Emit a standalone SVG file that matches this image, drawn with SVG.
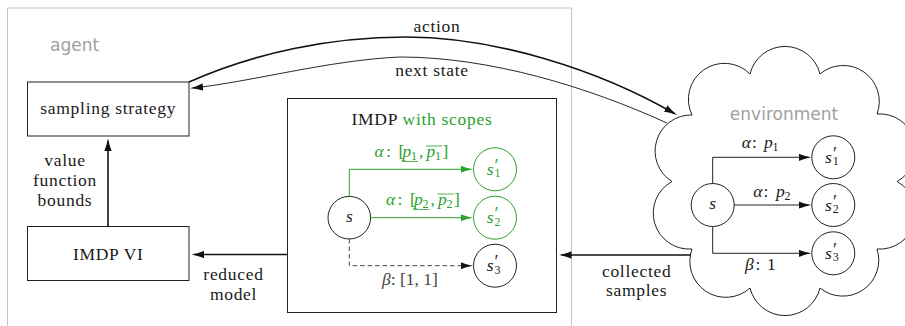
<svg xmlns="http://www.w3.org/2000/svg" width="905" height="326" viewBox="0 0 905 326">
<defs>
<style>
.t{font-family:'Liberation Serif','DejaVu Serif',serif;font-size:17.5px;fill:#1a1a1a}
.w{letter-spacing:0.7px}
.m{text-anchor:middle}
.i{font-style:italic}
.sm{font-size:12px}
.pr{font-size:18px}
.g{fill:#2ca02c}
.dk{fill:#444}
.sans{font-family:'DejaVu Sans','Open Sans',sans-serif;font-size:17px;fill:#a0a0a0}
.box{fill:#fff;stroke:#222;stroke-width:1}
.node{fill:#fff;stroke:#222;stroke-width:1}
.gnode{fill:#fff;stroke:#2ca02c;stroke-width:1}
.thick{fill:none;stroke:#111;stroke-width:1.6}
.thin{fill:none;stroke:#111;stroke-width:0.9}
.edge{fill:none;stroke:#222;stroke-width:1}
.gedge{fill:none;stroke:#2ca02c;stroke-width:1}
.dash{fill:none;stroke:#444;stroke-width:1;stroke-dasharray:4.5 3}
.gl{stroke:#2ca02c;stroke-width:0.8}
</style>
<marker id="ah" viewBox="0 0 13 8" refX="10" refY="4" markerWidth="13" markerHeight="8" orient="auto" markerUnits="userSpaceOnUse">
<path d="M13,4 C9,4.6 4,6 0,7.7 L0,0.3 C4,2 9,3.4 13,4 Z" fill="#111"/>
</marker>
<marker id="ahg" viewBox="0 0 13 8" refX="10" refY="4" markerWidth="13" markerHeight="8" orient="auto" markerUnits="userSpaceOnUse">
<path d="M13,4 C9,4.6 4,6 0,7.7 L0,0.3 C4,2 9,3.4 13,4 Z" fill="#2ca02c"/>
</marker>
</defs>
<rect width="905" height="326" fill="#fff"/>

<g id="agent">
<rect x="7.5" y="8" width="564" height="340" fill="none" stroke="#c4c4c4" stroke-width="1"/>
<text class="sans" x="50" y="50.5">agent</text>
</g>

<g id="sampling-strategy">
<rect class="box" x="27.5" y="82" width="161.5" height="54"/>
<text class="t w m" x="108.25" y="113.5">sampling strategy</text>
</g>

<g id="imdp-vi">
<rect class="box" x="27.5" y="226.5" width="161.5" height="54"/>
<text class="t w m" x="108.25" y="259.5">IMDP VI</text>
</g>

<g id="imdp">
<rect class="box" x="287.5" y="98.5" width="269" height="214"/>
<text class="t w m" x="422" y="125">IMDP <tspan class="g">with scopes</tspan></text>
<g id="imdp-s">
<circle class="node" cx="349.3" cy="217.7" r="21.3"/>
<text class="t i m" x="349.3" y="221.5">s</text>
</g>
<g id="imdp-s1">
<circle class="gnode" cx="495" cy="169.3" r="21.5"/>
<text class="t g"><tspan class="i" x="486.7" y="174.8">s</tspan><tspan class="pr" x="494.6" y="172">′</tspan><tspan class="sm" x="494.5" y="177.3">1</tspan></text>
</g>
<g id="imdp-s2">
<circle class="gnode" cx="495" cy="217.7" r="21.5"/>
<text class="t g"><tspan class="i" x="486.7" y="223.2">s</tspan><tspan class="pr" x="494.6" y="220.4">′</tspan><tspan class="sm" x="494.5" y="225.7">2</tspan></text>
</g>
<g id="imdp-s3">
<circle class="node" cx="495" cy="265.7" r="21.5"/>
<text class="t"><tspan class="i" x="486.7" y="271.2">s</tspan><tspan class="pr" x="494.6" y="268.4">′</tspan><tspan class="sm" x="494.5" y="273.7">3</tspan></text>
</g>
<g id="imdp-edges">
<path class="gedge" d="M349.3,196.4 V169.3 H470.5" marker-end="url(#ahg)"/>
<path class="gedge" d="M370.6,217.7 H470.5" marker-end="url(#ahg)"/>
<path class="dash" d="M349.3,239 V265.7 H470.5" marker-end="url(#ah)"/>
<text class="t g" y="157"><tspan class="i" x="374.5">α</tspan><tspan x="386">:</tspan><tspan x="398.5">[</tspan><tspan class="i" x="402.5">p</tspan><tspan class="sm" x="411" y="160">1</tspan><tspan x="419" y="157">,</tspan><tspan class="i" x="426.5">p</tspan><tspan class="sm" x="435" y="160">1</tspan><tspan x="442.5" y="157">]</tspan></text>
<line class="gl" x1="402" y1="161.5" x2="418" y2="161.5"/>
<line class="gl" x1="426" y1="146" x2="442" y2="146"/>
<text class="t g" y="205"><tspan class="i" x="386">α</tspan><tspan x="397.5">:</tspan><tspan x="410">[</tspan><tspan class="i" x="414">p</tspan><tspan class="sm" x="422.5" y="208">2</tspan><tspan x="430.5" y="205">,</tspan><tspan class="i" x="438">p</tspan><tspan class="sm" x="446.5" y="208">2</tspan><tspan x="454" y="205">]</tspan></text>
<line class="gl" x1="413.5" y1="209.5" x2="429.5" y2="209.5"/>
<line class="gl" x1="437.5" y1="194" x2="453.5" y2="194"/>
<text class="t m dk" x="410" y="285"><tspan class="i">β</tspan>: [1, 1]</text>
</g>
</g>

<g id="environment">
<path d="M750,74 A36,36 0 0 1 820,74 A36,36 0 0 1 877,114 A36,36 0 0 1 897,181.5 A36,36 0 0 1 877,249 A36,36 0 0 1 820,288 A36,36 0 0 1 750,288 A36,36 0 0 1 692,249 A36,36 0 0 1 672,181.5 A36,36 0 0 1 692,115 A36,36 0 0 1 750,74 Z" fill="#fff" stroke="#222" stroke-width="1"/>
<text class="sans m" x="784" y="120">environment</text>
<g id="env-s">
<circle class="node" cx="712.7" cy="205" r="21.5"/>
<text class="t i m" x="712.7" y="209">s</text>
</g>
<g id="env-s1">
<circle class="node" cx="833.3" cy="157.3" r="21.5"/>
<text class="t"><tspan class="i" x="825" y="162.8">s</tspan><tspan class="pr" x="832.9" y="160">′</tspan><tspan class="sm" x="832.8" y="165.3">1</tspan></text>
</g>
<g id="env-s2">
<circle class="node" cx="833.3" cy="205" r="21.5"/>
<text class="t"><tspan class="i" x="825" y="210.5">s</tspan><tspan class="pr" x="832.9" y="207.7">′</tspan><tspan class="sm" x="832.8" y="213">2</tspan></text>
</g>
<g id="env-s3">
<circle class="node" cx="833.3" cy="253.3" r="21.5"/>
<text class="t"><tspan class="i" x="825" y="258.8">s</tspan><tspan class="pr" x="832.9" y="256">′</tspan><tspan class="sm" x="832.8" y="261.3">3</tspan></text>
</g>
<g id="env-edges">
<path class="edge" d="M712.7,183.5 V157.3 H808.8" marker-end="url(#ah)"/>
<path class="edge" d="M734.2,205 H808.8" marker-end="url(#ah)"/>
<path class="edge" d="M712.7,226.5 V253.3 H808.8" marker-end="url(#ah)"/>
<text class="t" y="148.3"><tspan class="i" x="741.7">α</tspan><tspan x="752">:</tspan><tspan class="i" x="764">p</tspan><tspan class="sm" x="772.5" y="151.3">1</tspan></text>
<text class="t" y="196.7"><tspan class="i" x="753.3">α</tspan><tspan x="763.5">:</tspan><tspan class="i" x="776">p</tspan><tspan class="sm" x="784.5" y="199.7">2</tspan></text>
<text class="t" y="270"><tspan class="i" x="745">β</tspan><tspan x="755.5">:</tspan><tspan x="767">1</tspan></text>
</g>
</g>

<g id="connectors">
<path class="thick" d="M189,82 C254.8,52.7 331,37 406,37 C496,37 599,70 674.4,113.5" marker-end="url(#ah)"/>
<text class="t w m" x="437" y="32">action</text>
<path class="thin" d="M667,123 C588,87 490,57 400,57 C330,60 250,82 193,88" marker-end="url(#ah)"/>
<text class="t w m" x="432" y="75.5">next state</text>
<path class="thick" d="M108,226.5 V141" marker-end="url(#ah)"/>
<text class="t w m" x="65" y="165.5">value</text>
<text class="t w m" x="65" y="186">function</text>
<text class="t w m" x="65" y="205.5">bounds</text>
<path class="thick" d="M287.5,254.5 H194" marker-end="url(#ah)"/>
<text class="t w m" x="233.5" y="280">reduced</text>
<text class="t w m" x="233.5" y="299.5">model</text>
<path class="thick" d="M691,255 H561.5" marker-end="url(#ah)"/>
<text class="t w m" x="636.7" y="277">collected</text>
<text class="t w m" x="636.7" y="296">samples</text>
</g>
</svg>
